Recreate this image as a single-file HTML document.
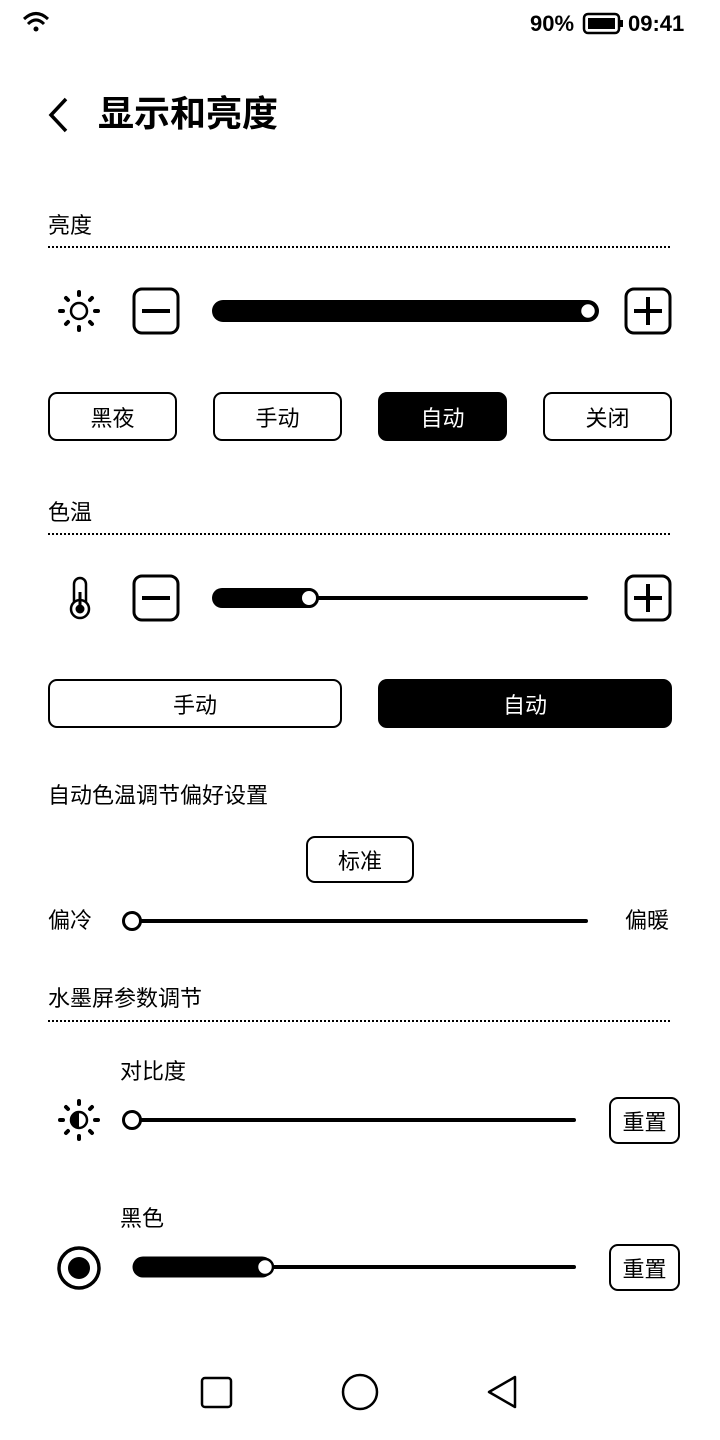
<!DOCTYPE html>
<html><head><meta charset="utf-8"><style>
*{margin:0;padding:0;box-sizing:border-box}
body{width:720px;height:1440px;background:#fff;position:relative;overflow:hidden;font-family:"Liberation Sans","Noto Sans CJK SC",sans-serif;color:#000}
.t{position:absolute;line-height:1;white-space:nowrap}
.btn{position:absolute;border:2.5px solid #000;border-radius:9px;display:flex;align-items:center;justify-content:center;font-size:22px;background:#fff}
.btn.on{background:#000;color:#fff}
.dot{position:absolute;left:48px;width:622px;height:0;border-top:2px dotted #000}
svg{position:absolute;left:0;top:0}
</style></head><body>
<svg width="720" height="1440" viewBox="0 0 720 1440" fill="none" stroke="#000">
<path d="M24 19 Q36 8 48 19" stroke-width="3"/><path d="M28 24 Q36 16 44 24" stroke-width="3"/><circle cx="36" cy="29" r="2.5" fill="#000" stroke="none"/>
<rect x="584" y="14" width="35" height="19" rx="4" stroke-width="2.5"/><rect x="588" y="18" width="27" height="11" fill="#000" stroke="none"/><rect x="620" y="20" width="3" height="7" fill="#000" stroke="none"/>
<path d="M66 99 L51 115 L66 131" stroke-width="3.5"/>
<circle cx="79" cy="311" r="8" stroke-width="2.5"/>
<g stroke-width="4" stroke-linecap="round">
<line x1="79" y1="292" x2="79" y2="295"/><line x1="79" y1="327" x2="79" y2="330"/><line x1="60" y1="311" x2="63" y2="311"/><line x1="95" y1="311" x2="98" y2="311"/>
<line x1="66" y1="298" x2="68" y2="300"/><line x1="90" y1="322" x2="92" y2="324"/><line x1="66" y1="324" x2="68" y2="322"/><line x1="90" y1="300" x2="92" y2="298"/>
</g>
<rect x="134" y="289" width="44" height="44" rx="8" stroke-width="3"/><line x1="142" y1="311" x2="170" y2="311" stroke-width="4"/>
<rect x="626" y="289" width="44" height="44" rx="8" stroke-width="3"/><line x1="634" y1="311" x2="662" y2="311" stroke-width="4"/><line x1="648" y1="297" x2="648" y2="325" stroke-width="4"/>
<line x1="223" y1="311" x2="588" y2="311" stroke-width="22" stroke-linecap="round"/>
<circle cx="588" cy="311" r="8" fill="#fff" stroke-width="2.5"/>
<!-- thermometer -->
<rect x="74" y="578" width="12" height="30" rx="6" stroke-width="2.5"/>
<circle cx="80" cy="609" r="9" stroke-width="2.5" fill="#fff"/><line x1="80" y1="592" x2="80" y2="609" stroke-width="3"/><circle cx="80" cy="609" r="4.5" fill="#000" stroke="none"/>
<rect x="134" y="576" width="44" height="44" rx="8" stroke-width="3"/><line x1="142" y1="598" x2="170" y2="598" stroke-width="4"/>
<rect x="626" y="576" width="44" height="44" rx="8" stroke-width="3"/><line x1="634" y1="598" x2="662" y2="598" stroke-width="4"/><line x1="648" y1="584" x2="648" y2="612" stroke-width="4"/>
<line x1="300" y1="598" x2="586" y2="598" stroke-width="4" stroke-linecap="round"/>
<line x1="222" y1="598" x2="308" y2="598" stroke-width="20" stroke-linecap="round"/>
<circle cx="309" cy="598" r="8.5" fill="#fff" stroke-width="3"/>
<line x1="132" y1="921" x2="586" y2="921" stroke-width="4" stroke-linecap="round"/>
<circle cx="132" cy="921" r="8.5" fill="#fff" stroke-width="3"/>
<circle cx="79" cy="1120" r="8" stroke-width="2.5"/><path d="M79 1112 A8 8 0 0 0 79 1128 Z" fill="#000" stroke="none"/>
<g stroke-width="4" stroke-linecap="round">
<line x1="79" y1="1101" x2="79" y2="1104"/><line x1="79" y1="1136" x2="79" y2="1139"/><line x1="60" y1="1120" x2="63" y2="1120"/><line x1="95" y1="1120" x2="98" y2="1120"/>
<line x1="66" y1="1107" x2="68" y2="1109"/><line x1="90" y1="1131" x2="92" y2="1133"/><line x1="66" y1="1133" x2="68" y2="1131"/><line x1="90" y1="1109" x2="92" y2="1107"/>
</g>
<line x1="132" y1="1120" x2="574" y2="1120" stroke-width="4" stroke-linecap="round"/>
<circle cx="132" cy="1120" r="8.5" fill="#fff" stroke-width="3"/>
<circle cx="79" cy="1268" r="20" stroke-width="3.5"/><circle cx="79" cy="1268" r="11" fill="#000" stroke="none"/>
<line x1="260" y1="1267" x2="574" y2="1267" stroke-width="4" stroke-linecap="round"/>
<line x1="143" y1="1267" x2="262" y2="1267" stroke-width="21" stroke-linecap="round"/>
<circle cx="265" cy="1267" r="8" fill="#fff" stroke-width="2.5"/>
<rect x="202" y="1378" width="29" height="29" rx="3" stroke-width="2.5"/>
<circle cx="360" cy="1392" r="17" stroke-width="2.5"/>
<path d="M515 1377 L515 1407 L489 1392 Z" stroke-width="2.5" stroke-linejoin="round"/>
</svg>
<div class="t" style="left:530px;top:13px;font-size:22px;font-weight:bold">90%</div>
<div class="t" style="left:628px;top:13px;font-size:22px;font-weight:bold">09:41</div>
<div class="t" style="left:98px;top:96px;font-size:36px;font-weight:bold">显示和亮度</div>
<div class="t" style="left:48px;top:215px;font-size:22px">亮度</div>
<div class="dot" style="top:246px"></div>
<div class="btn" style="left:48px;top:392px;width:129px;height:49px">黑夜</div>
<div class="btn" style="left:213px;top:392px;width:129px;height:49px">手动</div>
<div class="btn on" style="left:378px;top:392px;width:129px;height:49px">自动</div>
<div class="btn" style="left:543px;top:392px;width:129px;height:49px">关闭</div>
<div class="t" style="left:48px;top:502px;font-size:22px">色温</div>
<div class="dot" style="top:533px"></div>
<div class="btn" style="left:48px;top:679px;width:294px;height:49px">手动</div>
<div class="btn on" style="left:378px;top:679px;width:294px;height:49px">自动</div>
<div class="t" style="left:48px;top:785px;font-size:22px">自动色温调节偏好设置</div>
<div class="btn" style="left:306px;top:836px;width:108px;height:47px">标准</div>
<div class="t" style="left:48px;top:910px;font-size:22px">偏冷</div>
<div class="t" style="left:625px;top:910px;font-size:22px">偏暖</div>
<div class="t" style="left:48px;top:988px;font-size:22px">水墨屏参数调节</div>
<div class="dot" style="top:1020px"></div>
<div class="t" style="left:120px;top:1061px;font-size:22px">对比度</div>
<div class="btn" style="left:609px;top:1097px;width:71px;height:47px">重置</div>
<div class="t" style="left:120px;top:1208px;font-size:22px">黑色</div>
<div class="btn" style="left:609px;top:1244px;width:71px;height:47px">重置</div>
</body></html>
